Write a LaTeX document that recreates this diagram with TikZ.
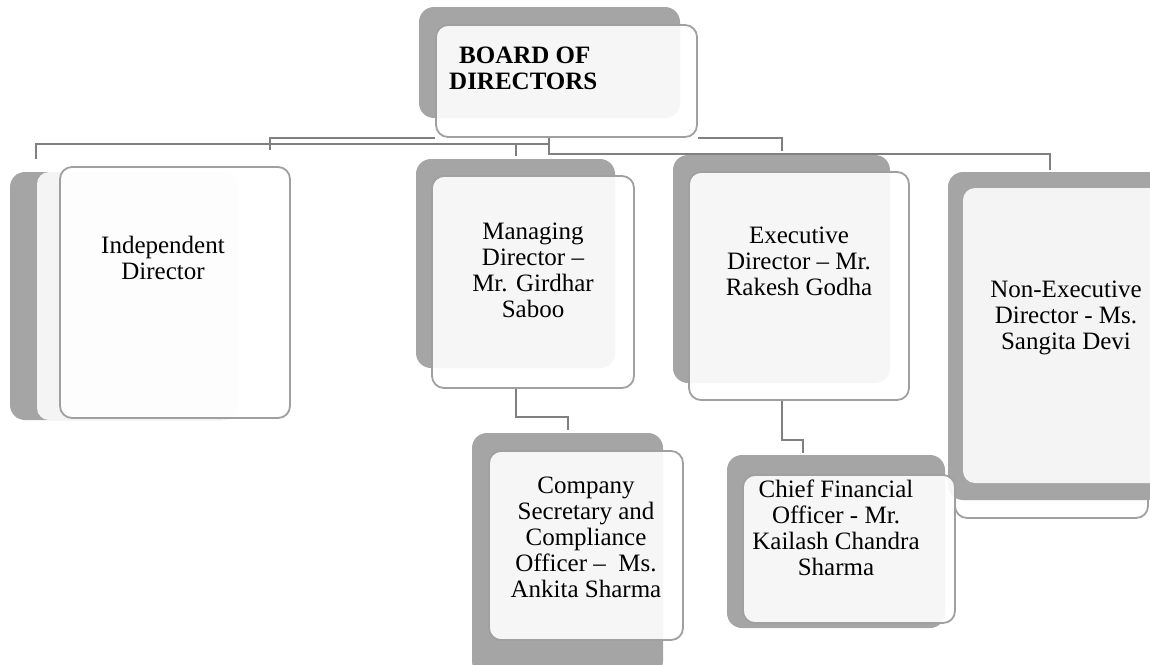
\documentclass[tikz,border=0pt]{standalone}
\usepackage{fontspec}
\setmainfont{Liberation Serif}
\usetikzlibrary{positioning}

\definecolor{shade}{HTML}{A5A5A5}
\definecolor{edge}{HTML}{A0A0A0}
\definecolor{wire}{HTML}{808080}
\definecolor{pale}{HTML}{F4F4F4}

\begin{document}
\begin{tikzpicture}[x=1pt, y=-1pt,
    back/.style={fill=shade, rounded corners=15pt},
    pane/.style={fill=pale, rounded corners=12pt},
    card/.style={draw=edge, line width=1.8pt, fill=white, fill opacity=0.9,
      rounded corners=12pt, inner sep=0pt},
    label/.style={font=\fontsize{25}{26}\selectfont, align=center,
      inner sep=0pt, anchor=base},
    link/.style={draw=wire, line width=2pt}]
    \useasboundingbox (0,0) rectangle (1150,664);%
    % board
    \fill[back] (419,7) rectangle (680,118);%
    \node[card, minimum width=261pt, minimum height=112pt] (board) at (566.5,81) {};%
    \node[label, align=left, anchor=base west, font=\fontsize{25}{26}\selectfont\bfseries]
      (boardtxt) at (449,89) {\hspace*{10pt}BOARD OF\\DIRECTORS};%
    % independent
    \fill[back] (10,172) rectangle (237,420);%
    \fill[pane] (37,172) rectangle (237,420);%
    \node[card, minimum width=230pt, minimum height=251pt] (indep) at (175,292.5) {};%
    \node[label] (indeptxt) at (163,279) {Independent\\Director};%
    % managing
    \fill[back] (416,159) rectangle (615,368);%
    \node[card, minimum width=202pt, minimum height=212pt] (md) at (533,282) {};%
    \node[label] (mdtxt) at (533,317) {Managing\\Director -- \\Mr. Girdhar\\Saboo};%
    % executive
    \fill[back] (673,155) rectangle (890,383);%
    \node[card, minimum width=220pt, minimum height=228pt] (exec) at (799,286) {};%
    \node[label] (exectxt) at (799,295) {Executive\\Director -- Mr.\\Rakesh Godha};%
    % non-executive
    \node[card, minimum width=193pt, minimum height=330pt] (nonexec) at (1051.5,353) {};%
    \fill[back] (948,172) rectangle (1162,500);%
    \fill[pane] (963,188) rectangle (1162,483);%
    \node[label] (nonexectxt) at (1066,349) {Non-Executive\\Director - Ms.\\Sangita Devi};%
    % company secretary
    \fill[back] (472,433) rectangle (663,676);%
    \node[card, minimum width=194pt, minimum height=189pt] (cs) at (586,545.5) {};%
    \node[label] (cstxt) at (586,597)
      {Company\\Secretary and\\Compliance\\Officer --\ \ Ms.\\Ankita Sharma};%
    % cfo
    \fill[back] (727,455) rectangle (945,628);%
    \node[card, minimum width=212pt, minimum height=148pt] (cfo) at (849,549) {};%
    \node[label] (cfotxt) at (836,575)
      {Chief Financial\\Officer - Mr.\\Kailash Chandra\\Sharma};%
    % connectors
    \coordinate (tb) at (270,150);%
    \coordinate (tr) at (549,144);%
    \coordinate (ti) at (36,159);%
    \coordinate (tm) at (516,156);%
    \coordinate (te) at (782,151);%
    \coordinate (tn) at (1050,170);%
    \coordinate (tc) at (568,430);%
    \coordinate (tf) at (803,453);%
    \draw[link] (board.south west) -| (tb);%
    \draw[link] (ti) |- (tr);%
    \draw[link] (tm) -- (tm |- tr);%
    \draw[link] (board.south -| tr) -- ++(0,16) -| (tn);%
    \draw[link] (board.south east) -| (te);%
    \draw[link] (md.south -| tm) -- ++(0,28) -| (tc);%
    \draw[link] (exec.south -| te) -- ++(0,39) -| (tf);%
\end{tikzpicture}
\end{document}
